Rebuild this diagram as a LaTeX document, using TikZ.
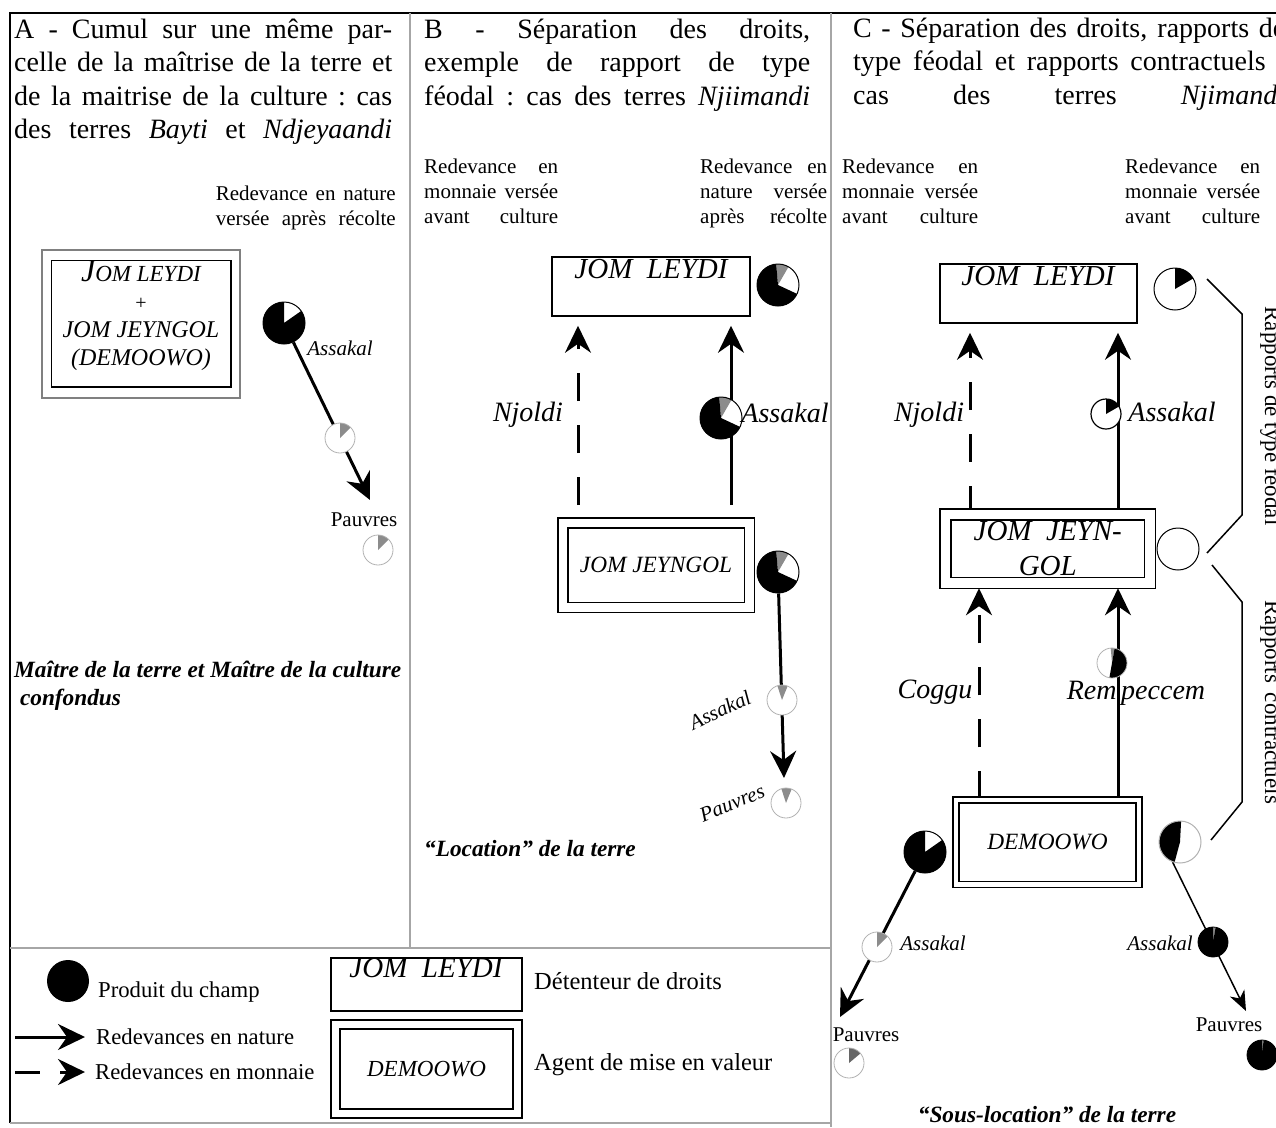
\documentclass[tikz,border=0pt]{standalone}
\usepackage{fontspec}
\setmainfont{Liberation Serif}
\usetikzlibrary{arrows.meta, backgrounds, positioning}

% one justified line of a paragraph
\newcommand{\ligne}[1]{\leavevmode\hbox to \hsize{\spaceskip=.25em plus 1fil minus .05em\xspaceskip=\spaceskip #1}}

\begin{document}
\begin{tikzpicture}[x=1pt, y=-1pt,
  cadre/.style={draw=gray!70, line width=1.2pt},
  droit/.style={draw, line width=1.5pt, inner sep=0pt},
  agent/.style={draw, double, line width=1.5pt, double distance=8.5pt, inner sep=0pt},
  nature/.style={line width=3pt, -{Stealth[length=27pt, width=26pt, inset=9pt]}},
  monnaie/.style={nature, dash pattern=on 28pt off 24pt},
  bigpie/.style={circle, draw, line width=1pt, fill=white, minimum size=42pt, inner sep=0pt},
  smallpie/.style={circle, draw=gray!60, line width=0.8pt, fill=white, minimum size=30pt, inner sep=0pt},
  secteurs/.style={path picture={\foreach \col/\deb/\fin in {#1} {\fill[\col] (path picture bounding box.center) -- ++(\deb:30pt) arc[start angle=\deb, end angle=\fin, radius=30pt] -- cycle;}}},
  titre/.style={anchor=base west, inner sep=0pt, align=left, font=\fontsize{28}{33.5}\selectfont},
  note/.style={anchor=base west, inner sep=0pt, align=left, font=\fontsize{21}{25}\selectfont},
  nom/.style={inner sep=0pt, font=\itshape\fontsize{28}{30}\selectfont},
  nomhaut/.style={anchor=base, inner sep=0pt, font=\itshape\fontsize{29}{30}\selectfont},
  etiq/.style={inner sep=0pt, font=\itshape\fontsize{21}{25}\selectfont},
  pauvres/.style={inner sep=0pt, font=\fontsize{21}{25}\selectfont},
  gras/.style={anchor=base west, inner sep=0pt, align=left, font=\bfseries\itshape\fontsize{23.3}{28}\selectfont},
  legende/.style={anchor=base west, inner sep=0pt, font=\fontsize{22.7}{25}\selectfont},
  legende2/.style={anchor=base west, inner sep=0pt, font=\fontsize{24.5}{26}\selectfont},
]
\useasboundingbox (0,0) rectangle (1276,1127);

% frame of the three columns and of the legend
\draw[line width=2pt] (10,1123) -- (10,13) -- (1276,13);
\draw[cadre] (410,13) -- (410,948);
\draw[cadre] (831,13) -- (831,1127);
\draw[cadre] (10,948) -- (831,948);
\draw[cadre] (10,1123) -- (831,1123);

% column titles
\node[titre, text width=378pt] (tA) at (14,38) {\ligne{A - Cumul sur une même par-}\\ \ligne{celle de la maîtrise de la terre et}\\ \ligne{de la maitrise de la culture : cas}\\ \ligne{des terres \textit{Bayti} et \textit{Ndjeyaandi}}};
\node[titre, text width=386pt] (tB) at (424,38) {\ligne{B - Séparation des droits,}\\ \ligne{exemple de rapport de type}\\ \ligne{féodal : cas des terres \textit{Njiimandi}}};
\node[titre, text width=432pt] (tC) at (853,37) {\ligne{C - Séparation des droits, rapports de}\\ \ligne{type féodal et rapports contractuels :}\\ \ligne{cas des terres \textit{Njimandi}}};

% kinds of payment
\node[note, text width=180pt, anchor=base east] (rA) at (396,200) {\ligne{Redevance en nature}\\ \ligne{versée après récolte}};
\node[note, text width=134pt] (rB1) at (424,173) {\ligne{Redevance en}\\ \ligne{monnaie versée}\\ \ligne{avant culture}};
\node[note, text width=127pt] (rB2) at (700,173) {\ligne{Redevance en}\\ \ligne{nature versée}\\ \ligne{après récolte}};
\node[note, text width=136pt] (rC1) at (842,173) {\ligne{Redevance en}\\ \ligne{monnaie versée}\\ \ligne{avant culture}};
\node[note, text width=135pt] (rC2) at (1125,173) {\ligne{Redevance en}\\ \ligne{monnaie versée}\\ \ligne{avant culture}};

% column A
\node[draw=gray, line width=1.5pt, minimum width=198pt, minimum height=148pt] (bA) at (141,324) {};
\draw[line width=1.5pt] ([shift={(10,11)}]bA.north west) rectangle ([shift={(-10,-12)}]bA.south east);
\node[align=center, inner sep=0pt, font=\itshape\fontsize{24}{28}\selectfont] (txA) at (141,316) {{\fontsize{32}{28}\selectfont J}{\fontsize{23}{28}\selectfont OM LEYDI}\\ {\upshape\fontsize{20}{28}\selectfont +}\\ JOM JEYNGOL\\ (DEMOOWO)};
\node[bigpie, secteurs={black/90/395}] (pA1) at (284,323) {};
\node[smallpie, secteurs={black!45/45/90}] (pA2) at (340,438) {};
\node[smallpie, secteurs={black!45/45/90}] (pA3) at (378,550) {};
\coordinate (fA) at (370,500);
\node[etiq] (lA1) at (340,348) {Assakal};
\node[pauvres] (lA2) at (364,520) {Pauvres};
\node[gras] (gA) at (14,705) {Maître de la terre et Maître de la culture\\ \ confondus};

% column B
\node[droit, minimum width=198pt, minimum height=59pt] (bJLB) at (651,286.5) {};
\node[nomhaut] (tJLB) at (651,278) {JOM~~LEYDI};
\node[agent, minimum width=186.5pt, minimum height=84.5pt, font=\itshape\fontsize{23.3}{25}\selectfont] (bJJB) at (656,565) {JOM JEYNGOL};
\node[bigpie, secteurs={black!45/60/95, black/95/335}] (pB1) at (778,285) {};
\node[bigpie, secteurs={black!45/60/95, black/95/335}] (pB2) at (721,418) {};
\node[bigpie, secteurs={black!45/60/95, black/95/335}] (pB3) at (778,572) {};
\node[smallpie, secteurs={black!45/68/108}] (pB4) at (782,700) {};
\node[smallpie, secteurs={black!45/68/108}] (pB5) at (786,803) {};
\coordinate (fB) at (784,778);
\coordinate (xB1) at (578,0);
\coordinate (xB2) at (731,0);
\node[nom] (lB1) at (528,415) {Njoldi};
\node[nom] (lB2) at (785,413) {Assakal};
\node[etiq, rotate=25] (lB3) at (720,710) {Assakal};
\node[etiq, rotate=22] (lB4) at (732,803) {Pauvres};
\node[gras] (gB) at (424,856) {“Location” de la terre};

% column C
\node[droit, minimum width=197pt, minimum height=59pt] (bJLC) at (1038.5,293.5) {};
\node[nomhaut] (tJLC) at (1038,285) {JOM~~LEYDI};
\node[agent, double distance=9.5pt, minimum width=204.5pt, minimum height=68.5pt, align=center, font=\itshape\fontsize{29}{35}\selectfont] (bJJC) at (1047.75,548.75) {JOM~~JEYN-\\GOL};
\node[agent, line width=1.2pt, double distance=4.8pt, minimum width=183pt, minimum height=84.5pt, font=\itshape\fontsize{23.3}{25}\selectfont] (bDMC) at (1047.5,842.25) {DEMOOWO};
\node[bigpie, secteurs={black/30/90}] (pC1) at (1175,289) {};
\node[smallpie, draw=black, line width=1.2pt, secteurs={black/30/90}] (pC2) at (1106,414) {};
\node[bigpie] (pC3) at (1178,549) {};
\node[smallpie, secteurs={black!45/80/95, black/-100/80}] (pC4) at (1112,663) {};
\node[bigpie, secteurs={black/90/395}] (pC5) at (925,852) {};
\node[smallpie, secteurs={black!45/45/90}] (pC6) at (877,947) {};
\node[smallpie, secteurs={black!60/40/90}] (pC7) at (849,1063) {};
\node[bigpie, draw=gray!60, secteurs={black/87/255}] (pC8) at (1180,842) {};
\node[smallpie, draw=black, secteurs={black!45/80/90, black/90/440}] (pC9) at (1213,942) {};
\node[smallpie, draw=black, secteurs={black!45/84/90, black/90/444}] (pC10) at (1262,1055) {};
\coordinate (fC1) at (840,1017);
\coordinate (fC2) at (1246,1011);
\coordinate (xC1) at (970,0);
\coordinate (xC2) at (1118,0);
\coordinate (xC3) at (979,0);
\node[nom] (lC1) at (929,415) {Njoldi};
\node[nom] (lC2) at (1172,412) {Assakal};
\node[nom] (lC3) at (935,692) {Coggu};
\node[nom] (lC4) at (1136,693) {Rem\,peccem};
\node[etiq] (lC5) at (933,943) {Assakal};
\node[etiq] (lC6) at (1160,943) {Assakal};
\node[pauvres] (lC7) at (866,1035) {Pauvres};
\node[pauvres] (lC8) at (1229,1025) {Pauvres};
\node[gras, anchor=base] (gC) at (1047,1122) {“Sous-location” de la terre};

% brackets and relation types
\draw[line width=1.5pt] (1207,279) -- (1242,314) -- (1242,515) -- (1207,553);
\draw[line width=1.5pt] (1212,565) -- (1242,602) -- (1242,802) -- (1211,840);
\node[rotate=-90, anchor=base, inner sep=0pt, font=\fontsize{23}{25}\selectfont] (rp1) at (1265,416) {Rapports de type féodal};
\node[rotate=-90, anchor=base, inner sep=0pt, text width=204pt, font=\fontsize{23}{25}\selectfont] (rp2) at (1265,702) {\ligne{Rapports contractuels}};

% legend
\node[circle, fill, minimum size=42pt, inner sep=0pt] (lgP) at (68,981) {};
\node[legende] (lgPt) at (98,997) {Produit du champ};
\coordinate (lgN0) at (15,1037);
\coordinate (lgN1) at (85,1037);
\node[legende] (lgNt) at (96,1044) {Redevances en nature};
\coordinate (lgM0) at (15,1072);
\coordinate (lgM1) at (85,1072);
\node[legende] (lgMt) at (95,1079) {Redevances en monnaie};
\node[droit, minimum width=191pt, minimum height=53pt] (lgJL) at (426.5,984.5) {};
\node[nomhaut] (lgJLt) at (426,977) {JOM~~LEYDI};
\node[agent, double distance=7.5pt, minimum width=182pt, minimum height=89pt, font=\itshape\fontsize{23}{25}\selectfont] (lgDM) at (426.5,1069) {DEMOOWO};
\node[legende2] (lgJLd) at (534,989) {Détenteur de droits};
\node[legende2] (lgDMd) at (534,1070) {Agent de mise en valeur};

% payments, under the pies
\begin{scope}[on background layer]
  \fill[white] (0,0) rectangle (1276,1127);
  \draw[nature] (pA1) -- (fA);
  \draw[monnaie, shorten <=17pt, shorten >=9pt] (bJJB.north -| xB1) -- (bJLB.south -| xB1);
  \draw[nature, shorten <=17pt, shorten >=9pt] (bJJB.north -| xB2) -- (bJLB.south -| xB2);
  \draw[nature] (pB3) -- (fB);
  \draw[monnaie, shorten >=9pt] (bJJC.north -| xC1) -- (bJLC.south -| xC1);
  \draw[nature, shorten >=9pt] (bJJC.north -| xC2) -- (bJLC.south -| xC2);
  \draw[monnaie, shorten >=4.5pt] (bDMC.north -| xC3) -- (bJJC.south -| xC3);
  \draw[nature, shorten >=4.5pt] (bDMC.north -| xC2) -- (bJJC.south -| xC2);
  \draw[nature] (pC5) -- (fC1);
  \draw[nature, line width=1.5pt, -{Stealth[length=20pt, width=16pt, inset=6pt]}] (pC8.250) -- (fC2);
  \draw[nature] (lgN0) -- (lgN1);
  \draw[monnaie, dash pattern=on 25pt off 20pt] (lgM0) -- (lgM1);
\end{scope}

\end{tikzpicture}
\end{document}
